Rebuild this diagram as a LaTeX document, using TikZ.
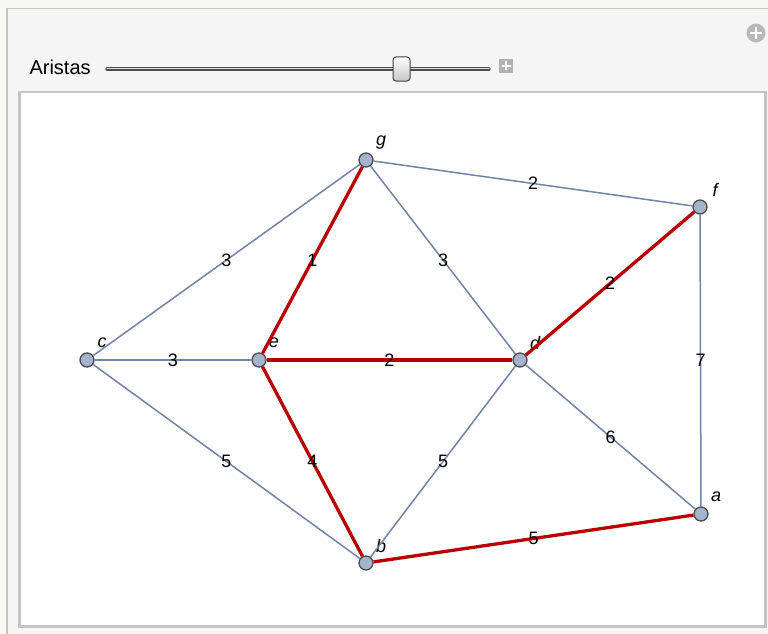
\documentclass[tikz,border=0pt]{standalone}
\usepackage{fontspec}
\setmainfont{Liberation Sans}
\definecolor{edgeblue}{RGB}{112,132,165}
\definecolor{treered}{RGB}{185,0,0}
\definecolor{vertexfill}{RGB}{165,180,205}
\definecolor{framegray}{RGB}{196,196,196}
\definecolor{panelbg}{RGB}{245,245,245}
\definecolor{pagebg}{RGB}{248,248,243}
\tikzset{
  vertex/.style={circle,draw=black!70,fill=vertexfill,line width=1.3pt,minimum size=14pt,inner sep=0pt},
  vlabel/.style={text=black,font=\fontsize{18}{21}\selectfont\itshape,inner sep=0pt},
  elabel/.style={text=black,font=\fontsize{18}{21}\selectfont,inner sep=0pt},
  plain/.style={edgeblue,line width=1.5pt},
  tree/.style={treered,line width=3.3pt},
  pluskey/.style={white,line width=2.2pt}
}

\begin{document}
\begin{tikzpicture}[x=1pt,y=-1pt]
  \useasboundingbox (0,0) rectangle (768,634);
  \clip (0,0) rectangle (768,634);
  \fill[pagebg] (0,0) rectangle (768,634);
  \draw[framegray,fill=panelbg,line width=1.3pt] (7,8.5) rectangle (790,660);
  \draw[framegray,fill=white,line width=2.6pt] (19.5,92) rectangle (765.5,626.5);
  % controls
  \node[font=\fontsize{20}{23}\selectfont,anchor=west] (aristas) at (26,67) {Aristas};
  \coordinate (trackl) at (107,69); \coordinate (trackr) at (489,69);
  \draw[black!70,line width=3.4pt,line cap=round] (trackl) -- (trackr);
  \draw[white!75!gray,line width=1pt,line cap=round] (trackl) -- (trackr);
  \draw[black!75,top color=white,bottom color=gray!45,rounded corners=3pt,line width=1pt] (393,57) rectangle (410,81);
  \fill[gray!60] (499,59) rectangle (513,73);
  \draw[pluskey,line width=1.8pt] (506,61.5) -- (506,70.5) (501.5,66) -- (510.5,66);
  \fill[gray!55] (756,33) circle (9.5);
  \draw[pluskey] (756,27) -- (756,39) (750,33) -- (762,33);
  % vertices
  \foreach \v/\x/\y in {g/366/160,f/700/207,c/87/360,e/259/360,d/520/360,a/701/514,b/366/563}{
    \node[vertex] (\v) at (\x,\y) {};
    \node[vlabel] (\v-lab) at ([shift={(15,-17)}]\v) {\v};
  }
  % edges
  \draw[plain] (g) -- node[elabel]{2} (f);
  \draw[plain] (g) -- node[elabel]{3} (c);
  \draw[plain] (g) -- node[elabel]{3} (d);
  \draw[plain] (f) -- node[elabel]{7} (a);
  \draw[plain] (c) -- node[elabel]{3} (e);
  \draw[plain] (c) -- node[elabel]{5} (b);
  \draw[plain] (d) -- node[elabel]{5} (b);
  \draw[plain] (d) -- node[elabel]{6} (a);
  \draw[tree] (g) -- node[elabel]{1} (e);
  \draw[tree] (f) -- node[elabel]{2} (d);
  \draw[tree] (e) -- node[elabel]{2} (d);
  \draw[tree] (e) -- node[elabel]{4} (b);
  \draw[tree] (b) -- node[elabel]{5} (a);
\end{tikzpicture}
\end{document}
